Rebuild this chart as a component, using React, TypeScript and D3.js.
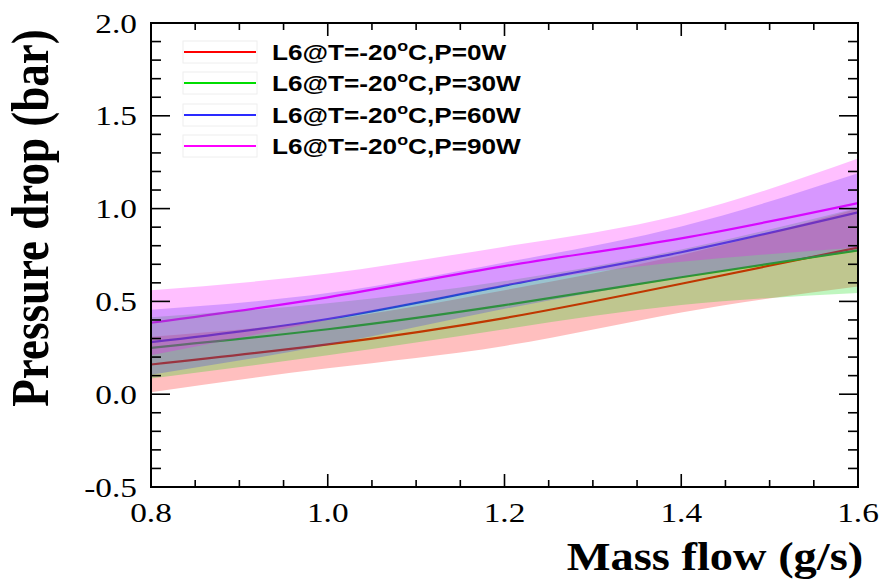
import React from "react";
import * as d3 from "d3";

const massFlow = [0.8, 1.0, 1.2, 1.4, 1.6];

const seriesNames = [
  "L6@T=-20|C,P=0W",
  "L6@T=-20|C,P=30W",
  "L6@T=-20|C,P=60W",
  "L6@T=-20|C,P=90W",
];
const seriesColors = ["#ff0000", "#00dd00", "#2a2aff", "#ff00ff"];

const fit0 = [0.16, 0.268, 0.41, 0.595, 0.79];
const lo0 = [0.01, 0.14, 0.26, 0.44, 0.58];
const hi0 = [0.31, 0.4, 0.56, 0.75, 1.0];

const fit30 = [0.25, 0.35, 0.48, 0.63, 0.775];
const lo30 = [0.085, 0.21, 0.35, 0.48, 0.545];
const hi30 = [0.415, 0.49, 0.61, 0.78, 1.005];

const fit60 = [0.28, 0.405, 0.585, 0.765, 0.98];
const lo60 = [0.105, 0.265, 0.46, 0.626, 0.77];
const hi60 = [0.455, 0.545, 0.71, 0.904, 1.19];

const fit90 = [0.385, 0.522, 0.69, 0.84, 1.03];
const lo90 = [0.21, 0.4, 0.585, 0.713, 0.79];
const hi90 = [0.56, 0.65, 0.795, 0.967, 1.27];

const fits = [fit0, fit30, fit60, fit90];
const los = [lo0, lo30, lo60, lo90];
const his = [hi0, hi30, hi60, hi90];

const xTicks = [0.8, 1.0, 1.2, 1.4, 1.6];
const yTicks = [-0.5, 0.0, 0.5, 1.0, 1.5, 2.0];

const SX = 1.19;

export default function App() {
  const left = 151, right = 858, top = 23, bottom = 487;
  const x = d3.scaleLinear().domain([0.8, 1.6]).range([left, right]);
  const y = d3.scaleLinear().domain([-0.5, 2.0]).range([bottom, top]);

  const line = (vals: number[]) =>
    d3
      .line<number>()
      .x((_, i) => x(massFlow[i]))
      .y((d) => y(d))
      .curve(d3.curveNatural)(vals) || "";

  const area = (lo: number[], hi: number[]) =>
    d3
      .area<number>()
      .x((_, i) => x(massFlow[i]))
      .y0((_, i) => y(lo[i]))
      .y1((_, i) => y(hi[i]))
      .curve(d3.curveNatural)(lo) || "";

  const xMinor = d3.range(0.8, 1.6001, 0.05);
  const yMinor = d3.range(-0.5, 2.0001, 0.1);
  const isMajorX = (v: number) => Math.abs(v * 5 - Math.round(v * 5)) < 1e-6;
  const isMajorY = (v: number) => Math.abs(v * 2 - Math.round(v * 2)) < 1e-6;

  const legendY = [52, 83, 115, 146];

  return (
    <svg
      width={884}
      height={580}
      style={{ position: "absolute", left: 0, top: 0, background: "#fff" }}
    >
      <defs>
        <clipPath id="plot">
          <rect x={left} y={top} width={right - left} height={bottom - top} />
        </clipPath>
      </defs>
      <g clipPath="url(#plot)">
        {fits.map((f, i) => (
          <path key={"l" + i} d={line(f)} fill="none" stroke={seriesColors[i]} strokeWidth={2.2} />
        ))}
        {fits.map((f, i) => (
          <path key={"a" + i} d={area(los[i], his[i])} fill={seriesColors[i]} fillOpacity={0.25} stroke="none" />
        ))}
      </g>

      {xMinor.map((v, i) => {
        const len = isMajorX(v) ? 13 : 7;
        return (
          <g key={"xt" + i} stroke="#000" strokeWidth={1.6}>
            <line x1={x(v)} x2={x(v)} y1={bottom} y2={bottom - len} />
            <line x1={x(v)} x2={x(v)} y1={top} y2={top + len} />
          </g>
        );
      })}
      {yMinor.map((v, i) => {
        const len = isMajorY(v) ? 19 : 10;
        return (
          <g key={"yt" + i} stroke="#000" strokeWidth={1.6}>
            <line x1={left} x2={left + len} y1={y(v)} y2={y(v)} />
            <line x1={right} x2={right - len} y1={y(v)} y2={y(v)} />
          </g>
        );
      })}
      <rect x={left} y={top} width={right - left} height={bottom - top} fill="none" stroke="#000" strokeWidth={2} />

      {xTicks.map((v) => (
        <text
          key={"xl" + v}
          transform={`translate(${x(v)},${522}) scale(${SX},1)`}
          textAnchor="middle"
          fontFamily="'Liberation Serif', 'Times New Roman', serif"
          fontSize={28}
        >
          {v.toFixed(1)}
        </text>
      ))}
      {yTicks.map((v) => (
        <text
          key={"yl" + v}
          transform={`translate(${137},${y(v) + 9.5}) scale(${SX},1)`}
          textAnchor="end"
          fontFamily="'Liberation Serif', 'Times New Roman', serif"
          fontSize={28}
        >
          {v.toFixed(1)}
        </text>
      ))}

      <text
        transform={`translate(${715},${570}) scale(${SX},1)`}
        textAnchor="middle"
        fontFamily="'Liberation Serif', 'Times New Roman', serif"
        fontWeight="bold"
        fontSize={39}
      >
        Mass flow (g/s)
      </text>
      <text
        transform={`translate(${48},${218}) scale(${SX},1) rotate(-90)`}
        textAnchor="middle"
        fontFamily="'Liberation Serif', 'Times New Roman', serif"
        fontWeight="bold"
        fontSize={45}
      >
        Pressure drop (bar)
      </text>

      {seriesNames.map((name, i) => {
        const [a, b] = name.split("|");
        return (
          <g key={"lg" + i}>
            <rect x={183} y={legendY[i] - 11} width={74} height={22} fill="none" stroke="#eeeeee" strokeWidth={1} />
            <line x1={184} x2={256} y1={legendY[i]} y2={legendY[i]} stroke={seriesColors[i]} strokeWidth={2.2} />
            <text
              transform={`translate(${272},${legendY[i] + 8}) scale(${SX},1)`}
              fontFamily="'Liberation Sans', Arial, sans-serif"
              fontWeight="bold"
              fontSize={22}
            >
              {a}
              <tspan fontSize={15} dy={-9}>o</tspan>
              <tspan dy={9}>{b}</tspan>
            </text>
          </g>
        );
      })}
    </svg>
  );
}
